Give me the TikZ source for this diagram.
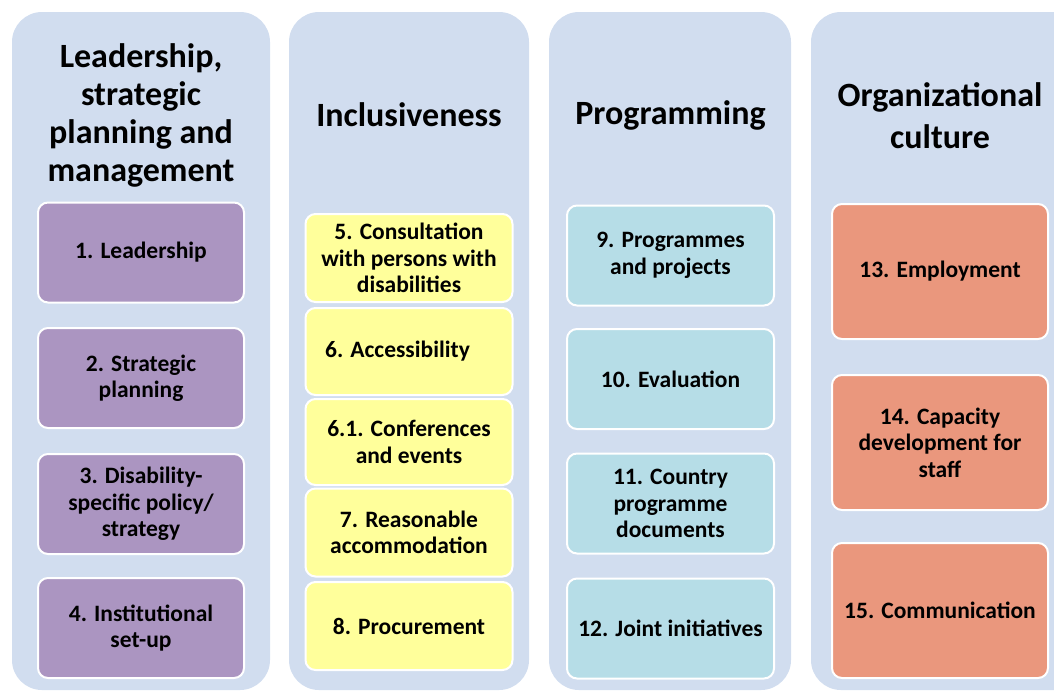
\documentclass[tikz,border=0pt]{standalone}
\usepackage{fontspec}
\setmainfont{Carlito}
\definecolor{bgblue}{HTML}{D1DDEF}
\definecolor{purplebox}{HTML}{AB95C1}
\definecolor{yellowbox}{HTML}{FFFF9B}
\definecolor{cyanbox}{HTML}{B6DDE7}
\definecolor{salmonbox}{HTML}{EA977D}
\begin{document}
\begin{tikzpicture}[x=1pt,y=-1pt,
  colbg/.style={fill=bgblue, rounded corners=30pt},
  coltitle/.style={align=center, inner sep=0pt, font=\bfseries\fontsize{34}{38}\selectfont},
  item/.style={draw=white, line width=2pt, rounded corners=10pt, inner sep=0pt,
    align=center, font=\bfseries\fontsize{23.5}{26.5}\selectfont},
  c1/.style={item, fill=purplebox, minimum width=206pt, minimum height=100pt},
  c2/.style={item, fill=yellowbox, minimum width=207pt},
  c3/.style={item, fill=cyanbox, minimum width=207pt, minimum height=100pt},
  c4/.style={item, fill=salmonbox, minimum width=216pt, minimum height=135pt}]
\useasboundingbox (0,0) rectangle (1054,694);
\clip (0,0) rectangle (1054,694);
% column backgrounds
\path[colbg] (12,12) rectangle (270,690);
\path[colbg] (289,12) rectangle (529,690);
\path[colbg] (549,12) rectangle (791,690);
\path[colbg] (811,12) rectangle (1090,690);
% titles
\node[coltitle] (t1) at (141,115) {Leadership,\\strategic\\planning and\\management};
\node[coltitle] (t2) at (409,115) {Inclusiveness};
\node[coltitle] (t3) at (670.5,115) {Programming};
\node[coltitle, font=\bfseries\fontsize{34}{42}\selectfont] (t4) at (940,116) {Organizational\\culture};
% column 1
\node[c1] (b1) at (141,252.5) {1. Leadership};
\node[c1] (b2) at (141,378) {2. Strategic\\planning};
\node[c1] (b3) at (141,504) {3. Disability-\\specific policy/\\strategy};
\node[c1] (b4) at (141,628) {4. Institutional\\set-up};
% column 2
\node[c2, minimum height=88pt] (b5) at (409,258) {5. Consultation\\with persons with\\disabilities};
\node[c2, minimum height=87pt] (b6) at (409,351.5) {\hspace*{-23pt}6. Accessibility};
\node[c2, minimum height=86pt] (b61) at (409,442) {6.1. Conferences\\and events};
\node[c2, minimum height=88pt] (b7) at (409,532.5) {7. Reasonable\\accommodation};
\node[c2, minimum height=88pt] (b8) at (409,626) {8. Procurement};
% column 3
\node[c3] (b9) at (670.5,255.5) {9. Programmes\\and projects};
\node[c3] (b10) at (670.5,379) {10. Evaluation};
\node[c3] (b11) at (670.5,503.5) {11. Country\\programme\\documents};
\node[c3] (b12) at (670.5,628.5) {12. Joint initiatives};
% column 4
\node[c4] (b13) at (940,271.5) {13. Employment};
\node[c4] (b14) at (940,442.5) {14. Capacity\\development for\\staff};
\node[c4] (b15) at (940,610.5) {15. Communication};
\end{tikzpicture}
\end{document}
